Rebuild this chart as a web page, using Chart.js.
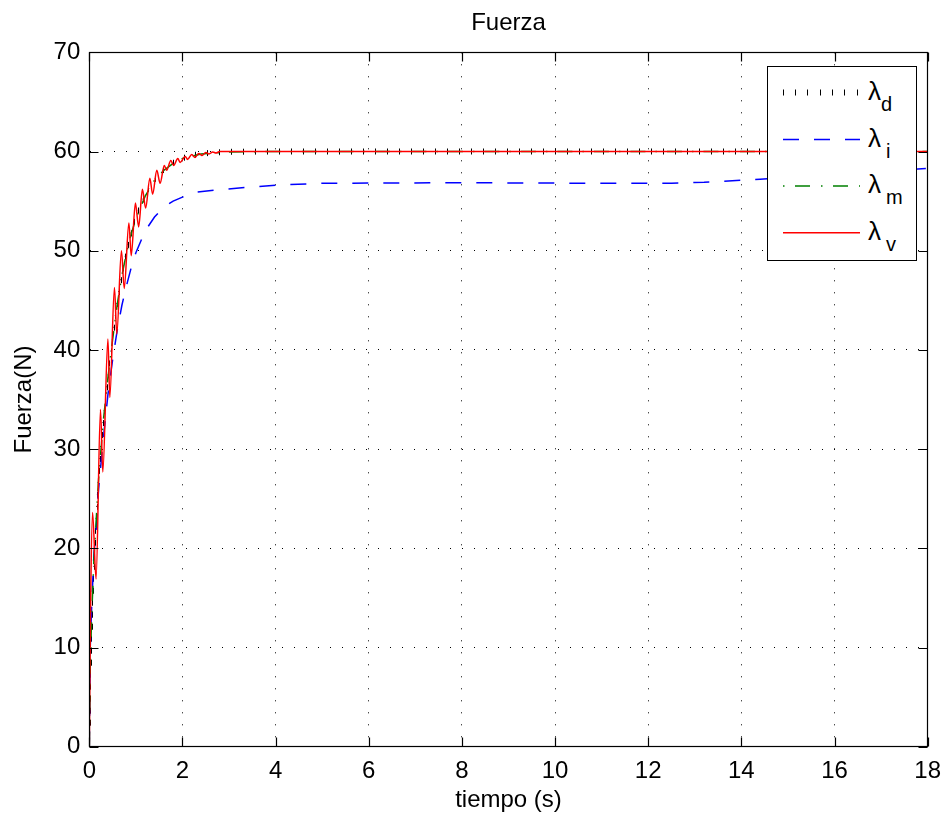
<!DOCTYPE html>
<html>
<head>
<meta charset="utf-8">
<title>Fuerza</title>
<script src="https://cdn.jsdelivr.net/npm/chart.js@4.4.1/dist/chart.umd.min.js"></script>
<style>
body { margin: 0; background: #fff; }
#wrap { position: relative; width: 951px; height: 824px; }
#leyenda { position: absolute; left: 767px; top: 66px; width: 150px; height: 195px; box-sizing: border-box;
  border: 1px solid #000; background: #fff; font-family: 'Liberation Sans', Arial, sans-serif; color: #000; }
#leyenda svg { position: absolute; left: -1px; top: -1px; }
.lab { position: absolute; left: 100px; font-size: 26px; line-height: 1; white-space: nowrap; }
.lab span { position: relative; top: 11px; font-size: 20px; }
.lab span.sep { margin-left: 5px; }
</style>
</head>
<body>
<div id="wrap">
  <canvas id="grafica" width="951" height="824"></canvas>
  <div id="leyenda">
    <svg width="150" height="195">
      <g stroke="#000" stroke-width="1">
        <line x1="16.5" y1="23.5" x2="16.5" y2="29.5"/><line x1="28.5" y1="23.5" x2="28.5" y2="29.5"/>
        <line x1="40.5" y1="23.5" x2="40.5" y2="29.5"/><line x1="53.5" y1="23.5" x2="53.5" y2="29.5"/>
        <line x1="65.5" y1="23.5" x2="65.5" y2="29.5"/><line x1="77.5" y1="23.5" x2="77.5" y2="29.5"/>
        <line x1="90.5" y1="23.5" x2="90.5" y2="29.5"/>
      </g>
      <line x1="16" y1="73.5" x2="93" y2="73.5" stroke="#0000ff" stroke-width="1.5" stroke-dasharray="16 15"/>
      <line x1="16" y1="120" x2="93" y2="120" stroke="#008000" stroke-width="1.5" stroke-dasharray="1.5 10.5 15 11"/>
      <line x1="16" y1="166.7" x2="93" y2="166.7" stroke="#ff0000" stroke-width="1.5"/>
    </svg>
    <div class="lab" style="top:11px">λ<span>d</span></div>
    <div class="lab" style="top:58px">λ<span class="sep">i</span></div>
    <div class="lab" style="top:104px">λ<span class="sep">m</span></div>
    <div class="lab" style="top:151px">λ<span class="sep">v</span></div>
  </div>
</div>
<script>
// valores
const timeD = [0, 0.02, 0.04, 0.06, 0.08, 0.1, 0.15, 0.2, 0.25, 0.3, 0.35, 0.4, 0.5, 0.6, 0.7, 0.8, 0.9, 1.0, 1.1, 1.2, 1.4, 1.6, 1.8, 2.0, 2.3, 2.6, 3.0, 4.0, 18];
const fuerzaD = [0, 7, 11, 13.5, 16, 18.5, 23.5, 27.5, 30.5, 33, 35.2, 37.3, 41.3, 45, 47.8, 50.1, 51.9, 53.4, 54.7, 55.7, 57.2, 58.2, 58.9, 59.35, 59.7, 59.88, 59.97, 60, 60];

const timeI = [0, 0.02, 0.05, 0.1, 0.15, 0.2, 0.3, 0.4, 0.5, 0.6, 0.7, 0.8, 0.9, 1.0, 1.2, 1.4, 1.6, 1.8, 2.0, 2.3, 2.7, 3.4, 4.0, 5.0, 8.0, 11.0, 12.5, 13.2, 14.0, 14.4, 15.0, 16.0, 17.0, 18];
const fuerzaI = [0, 10, 14, 19.5, 22, 26, 31, 35.5, 39, 42, 44.5, 46.5, 48.3, 49.8, 52, 53.4, 54.4, 55, 55.4, 55.9, 56.1, 56.4, 56.6, 56.8, 56.85, 56.8, 56.8, 56.9, 57.1, 57.2, 57.4, 57.7, 58, 58.3];

const timeM = [0, 0.02, 0.05, 0.1, 0.15, 0.2, 0.3, 0.4, 0.5, 0.6, 0.7, 0.8, 0.9, 1.0, 1.2, 1.4, 1.6, 1.8, 2.0, 2.4, 3.0, 4.0, 18];
const fuerzaM = [0, 8, 13, 19, 23, 27, 32.8, 37.2, 41, 44.6, 47.5, 49.8, 51.7, 53.2, 55.5, 57.1, 58.1, 58.8, 59.3, 59.75, 59.95, 60, 60];

const timeV = [0, 0.03, 0.07, 0.145, 0.24, 0.29, 0.40, 0.44, 0.54, 0.59, 0.69, 0.75, 0.85, 0.90, 0.99, 1.06, 1.14, 1.21, 1.30, 1.36, 1.45, 1.52, 1.61, 1.66, 1.75, 1.81, 1.90, 1.95, 2.06, 2.11, 2.2, 2.27, 2.35, 2.42, 2.5, 2.57, 2.65, 2.72, 2.8, 3.0, 18];
const fuerzaV = [0, 15, 23.6, 16.9, 34, 27.7, 41.1, 35.2, 46.3, 41.6, 50.0, 46.2, 52.8, 49.5, 54.8, 52.4, 56.2, 54.3, 57.3, 55.7, 58.1, 56.8, 58.6, 58.1, 59.1, 58.6, 59.3, 58.9, 59.5, 59.2, 59.7, 59.4, 59.8, 59.6, 59.9, 59.75, 59.95, 59.85, 60, 60, 60];

const xTicks = [0, 2, 4, 6, 8, 10, 12, 14, 16, 18];
const yTicks = [0, 10, 20, 30, 40, 50, 60, 70];

const fuente = 'Liberation Sans, Arial, sans-serif';

function pares(t, v) {
    return t.map((x, k) => ({x: x, y: v[k]}));
}

// marco, marcas hacia dentro y la linea de puntos de lambda_d
const marcoPlugin = {
    id: 'marco',
    afterDatasetDraw(chart, args) {
        if (args.index !== 0) return;
        const ctx = chart.ctx, a = chart.chartArea;
        const pts = args.meta.data;
        ctx.save();
        ctx.beginPath();
        ctx.rect(a.left, a.top, a.right - a.left, a.bottom - a.top);
        ctx.clip();
        ctx.strokeStyle = '#000';
        ctx.lineWidth = 1;
        ctx.beginPath();
        let rest = 0;
        for (let k = 1; k < pts.length; k++) {
            const p0 = pts[k - 1], p1 = pts[k];
            const dx = p1.x - p0.x, dy = p1.y - p0.y;
            const len = Math.hypot(dx, dy);
            if (len === 0) continue;
            let s = rest;
            while (s <= len) {
                const px = Math.round(p0.x + dx * s / len) + 0.5;
                const py = p0.y + dy * s / len;
                ctx.moveTo(px, py - 3);
                ctx.lineTo(px, py + 3);
                s += 12;
            }
            rest = s - len;
        }
        ctx.stroke();
        ctx.restore();
    },
    afterDraw(chart) {
        const ctx = chart.ctx, a = chart.chartArea;
        const x = chart.scales.x, y = chart.scales.y;
        const L = Math.round(a.left) + 0.5, R = Math.round(a.right) - 0.5;
        const T = Math.round(a.top) + 0.5, B = Math.round(a.bottom) - 0.5;
        ctx.save();
        ctx.strokeStyle = '#000';
        ctx.lineWidth = 1.2;
        ctx.strokeRect(L, T, R - L, B - T);
        ctx.beginPath();
        xTicks.forEach(v => {
            const px = Math.round(x.getPixelForValue(v)) + 0.5;
            ctx.moveTo(px, B); ctx.lineTo(px, B - 9);
            ctx.moveTo(px, T); ctx.lineTo(px, T + 9);
        });
        yTicks.forEach(v => {
            const py = Math.round(y.getPixelForValue(v)) + 0.5;
            ctx.moveTo(L, py); ctx.lineTo(L + 9, py);
            ctx.moveTo(R, py); ctx.lineTo(R - 9, py);
        });
        ctx.stroke();
        ctx.restore();
    }
};

const ctx = document.getElementById('grafica').getContext('2d');
new Chart(ctx, {
    type: 'line',
    data: {
        datasets: [{
            label: 'λd',
            data: pares(timeD, fuerzaD),
            borderColor: '#000',
            borderWidth: 1,
            borderDash: [1, 11],
            order: 3
        }, {
            label: 'λi',
            data: pares(timeI, fuerzaI),
            borderColor: '#0000ff',
            borderWidth: 1.5,
            borderDash: [16, 15],
            order: 2
        }, {
            label: 'λm',
            data: pares(timeM, fuerzaM),
            borderColor: '#008000',
            borderWidth: 1.5,
            borderDash: [15, 10, 1.5, 10],
            order: 1
        }, {
            label: 'λv',
            data: pares(timeV, fuerzaV),
            borderColor: '#ff0000',
            borderWidth: 1.5,
            cubicInterpolationMode: 'monotone',
            order: 0
        }]
    },
    options: {
        responsive: false,
        animation: false,
        elements: { point: { radius: 0 }, line: { tension: 0 } },
        layout: { padding: { left: 0, right: 21, top: 0, bottom: 0 } },
        plugins: {
            legend: { display: false },
            tooltip: { enabled: false },
            title: {
                display: true,
                text: 'Fuerza',
                fullSize: false,
                color: '#000',
                font: { family: fuente, size: 24, weight: 'normal' },
                padding: { top: 9, bottom: 14.5 }
            }
        },
        scales: {
            x: {
                type: 'linear',
                min: 0,
                max: 18,
                ticks: { stepSize: 2, color: '#000', padding: 10, maxRotation: 0, font: { family: fuente, size: 24 } },
                grid: { color: '#000', lineWidth: 1, drawTicks: false },
                border: { display: true, color: '#000', width: 1, dash: [1, 11] },
                title: { display: true, text: 'tiempo (s)', color: '#000', font: { family: fuente, size: 24 }, padding: { top: 0, bottom: 9 } },
                afterFit: s => { s.height = 77.3; }
            },
            y: {
                min: 0,
                max: 70,
                ticks: { stepSize: 10, color: '#000', padding: 9, font: { family: fuente, size: 24 } },
                grid: { color: '#000', lineWidth: 1, drawTicks: false },
                border: { display: true, color: '#000', width: 1, dash: [1, 11] },
                title: { display: true, text: 'Fuerza(N)', color: '#000', font: { family: fuente, size: 24 }, padding: { top: 10, bottom: 0 } },
                afterFit: s => { s.width = 89.3; }
            }
        }
    },
    plugins: [marcoPlugin]
});
</script>
</body>
</html>
